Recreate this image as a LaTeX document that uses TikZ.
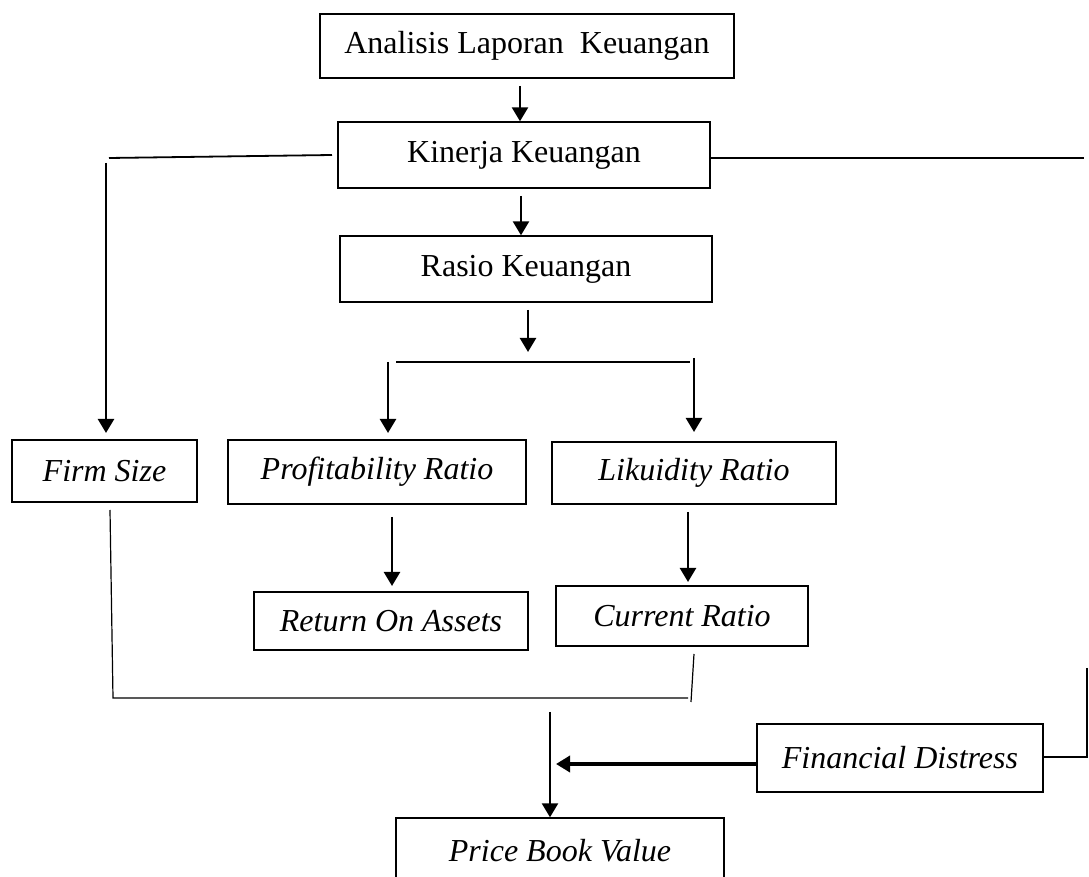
\documentclass[tikz,border=0pt]{standalone}
\usepackage{xcolor}
\usepackage{fontspec}
\setmainfont{Liberation Serif}
\usepackage{tikz}
\usetikzlibrary{shapes, arrows.meta, positioning}

\begin{document}
\begin{tikzpicture}
  [
    x=0.5pt, y=-0.5pt,
    Box/.style={rectangle, draw=black!, line width=0.7pt, inner sep=0pt, font=\fontsize{16}{19}\selectfont},
    Slant/.style={Box, font=\fontsize{16}{19}\selectfont\itshape},
    Arrow/.style={-{Triangle[length=7pt, width=8pt]}, draw, line width=1.2pt},
    Line/.style={draw, line width=0.6pt}
  ]
  \useasboundingbox (0, 0) rectangle (1089, 877);

  % Nodes
  \node[Box, minimum width=207pt, minimum height=32pt] (v0) at(527, 46) {Analisis Laporan \ Keuangan};
  \node[Box, minimum width=186pt, minimum height=33pt] (v1) at(524, 155) {Kinerja Keuangan};
  \node[Box, minimum width=186pt, minimum height=33pt] (v2) at(526, 269) {Rasio Keuangan};
  \node[Slant, minimum width=92.5pt, minimum height=31pt] (v3) at(104.5, 471) {Firm Size};
  \node[Slant, minimum width=149pt, minimum height=32pt] (v4) at(377, 472) {Profitability Ratio};
  \node[Slant, minimum width=142pt, minimum height=31pt] (v5) at(694, 473) {Likuidity Ratio};
  \node[Slant, minimum width=137pt, minimum height=29pt] (v6) at(391, 621) {Return On Assets};
  \node[Slant, minimum width=126pt, minimum height=30pt] (v7) at(682, 616) {Current Ratio};
  \node[Slant, minimum width=143pt, minimum height=34pt] (v8) at(900, 758) {Financial Distress};
  \node[Slant, minimum width=164pt, minimum height=33pt] (v9) at(560, 851) {Price Book Value};

  % Free ends
  \coordinate (c0) at(520, 86);
  \coordinate (c1) at(521, 196);
  \coordinate (c2) at(528, 310);
  \coordinate (c3) at(528, 352);
  \coordinate (c4) at(396, 362);
  \coordinate (c5) at(690, 362);
  \coordinate (c6) at(388, 362);
  \coordinate (c7) at(388, 433);
  \coordinate (c8) at(694, 358);
  \coordinate (c9) at(694, 432);
  \coordinate (c10) at(106, 163);
  \coordinate (c11) at(106, 433);
  \coordinate (c12) at(109, 158);
  \coordinate (c13) at(332, 155);
  \coordinate (c14) at(1084, 158);
  \coordinate (c15) at(392, 517);
  \coordinate (c16) at(392, 586);
  \coordinate (c17) at(688, 512);
  \coordinate (c18) at(688, 582);
  \coordinate (c19) at(110, 510);
  \coordinate (c20) at(113, 698);
  \coordinate (c21) at(688, 698);
  \coordinate (c22) at(694, 654);
  \coordinate (c23) at(691, 702);
  \coordinate (c24) at(550, 712);
  \coordinate (c25) at(556, 764);
  \coordinate (c26) at(1087, 668);
  \coordinate (c27) at(1087, 757);

  % Lines
  \path [Arrow] (c0) -- (c0 |- v1.north);
  \path [Arrow] (c1) -- (c1 |- v2.north);
  \path [Arrow] (c2) -- (c3);
  \path [Line, line width=1.2pt] (c4) -- (c5);
  \path [Arrow] (c6) -- (c7);
  \path [Arrow] (c8) -- (c9);
  \path [Arrow] (c10) -- (c11);
  \path [Line, line width=0.9pt] (c12) -- (c13);
  \path [Line, line width=0.9pt] (v1.east |- c14) -- (c14);
  \path [Arrow] (c15) -- (c16);
  \path [Arrow] (c17) -- (c18);
  \path [Line] (c19) -- (c20) -- (c21);
  \path [Line] (c22) -- (c23);
  \path [Arrow] (c24) -- (c24 |- v9.north);
  \path [Arrow, line width=2pt] (v8.west |- c25) -- (c25);
  \path [Line] (c26) -- (c27) -- (v8.east |- c27);

\end{tikzpicture}
\end{document}
